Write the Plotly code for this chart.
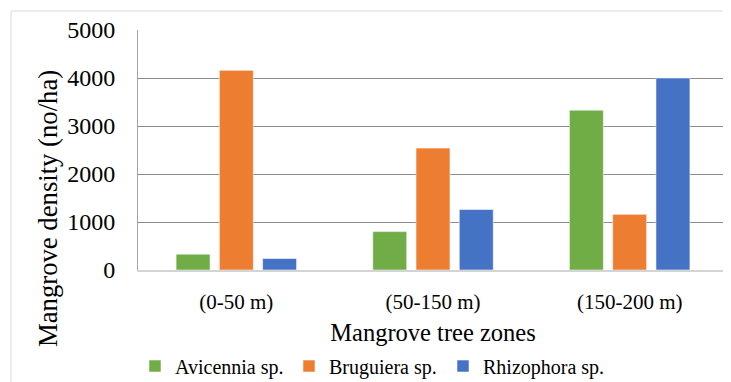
import plotly.graph_objects as go

zones = ["(0-50 m)", "(50-150 m)", "(150-200 m)"]
species = ["Avicennia sp.", "Bruguiera sp.", "Rhizophora sp."]
avicennia = [330, 800, 3330]
bruguiera = [4160, 2540, 1160]
rhizophora = [240, 1260, 4000]
y_ticks = [0, 1000, 2000, 3000, 4000, 5000]
y_title = "Mangrove density (no/ha)"
x_title = "Mangrove tree zones"

colors = ["#70AD47", "#ED7D31", "#4472C4"]
series = [avicennia, bruguiera, rhizophora]
legend_widths = [109, 109, 140]

FONT = "Liberation Serif"

fig = go.Figure()
for name, vals, col, lw in zip(species, series, colors, legend_widths):
    fig.add_trace(go.Bar(
        x=zones, y=vals, name=name, legendwidth=lw,
        marker=dict(color=col, line=dict(color="rgba(255,255,255,0.55)", width=1)),
    ))

# page body has an 8px default margin, so the figure is offset by (8, 8)
OFF = 8
W, H = 731 - OFF, 382 - OFF
ml, mr, mt, mb = 138 - OFF, 3, 30 - OFF, 112
pw = W - ml - mr
ph = H - mt - mb


def px_x(x):
    return (x - OFF - ml) / pw


def px_y(y):
    return (ph + mt - (y - OFF)) / ph


fig.update_layout(
    width=W, height=H,
    margin=dict(l=ml, r=mr, t=mt, b=mb, pad=0, autoexpand=False),
    paper_bgcolor="white", plot_bgcolor="white",
    barmode="group", bargap=0.34, bargroupgap=0.215,
    font=dict(family=FONT, color="#000000"),
    legend=dict(
        orientation="h", x=px_x(135), xanchor="left",
        y=px_y(366), yanchor="middle",
        font=dict(family=FONT, size=20),
        entrywidthmode="pixels",
        bgcolor="rgba(0,0,0,0)", itemclick=False,
    ),
    xaxis=dict(
        title=dict(text=x_title, font=dict(family=FONT, size=24.5), standoff=11),
        tickfont=dict(family=FONT, size=21),
        showline=True, linecolor="#d4d4d4", linewidth=2,
        showgrid=False, ticks="", ticklabelstandoff=12,
        automargin=False,
    ),
    yaxis=dict(
        range=[0, 5000], tickvals=y_ticks,
        tickfont=dict(family=FONT, size=24),
        showgrid=True, gridcolor="#8c8c8c", gridwidth=1.2,
        showline=True, linecolor="#a6a6a6", linewidth=1,
        ticks="", ticklabelstandoff=17, zeroline=False,
        automargin=False,
    ),
    showlegend=True,
)

fig.add_annotation(
    text=y_title, textangle=-90, showarrow=False,
    xref="paper", yref="paper", x=px_x(48), y=px_y(209),
    xanchor="center", yanchor="middle",
    font=dict(family=FONT, size=26.7, color="#000000"),
)

# chart outer border and plot right edge
fig.add_shape(type="rect", xref="paper", yref="paper",
              x0=px_x(11), x1=px_x(745), y0=px_y(395), y1=px_y(11),
              line=dict(color="#d9d9d9", width=1), fillcolor="rgba(0,0,0,0)", layer="below")
fig.add_shape(type="line", xref="paper", yref="paper", x0=1, x1=1, y0=0, y1=1,
              line=dict(color="#bfbfbf", width=1.5))

fig.write_html("out.html")
